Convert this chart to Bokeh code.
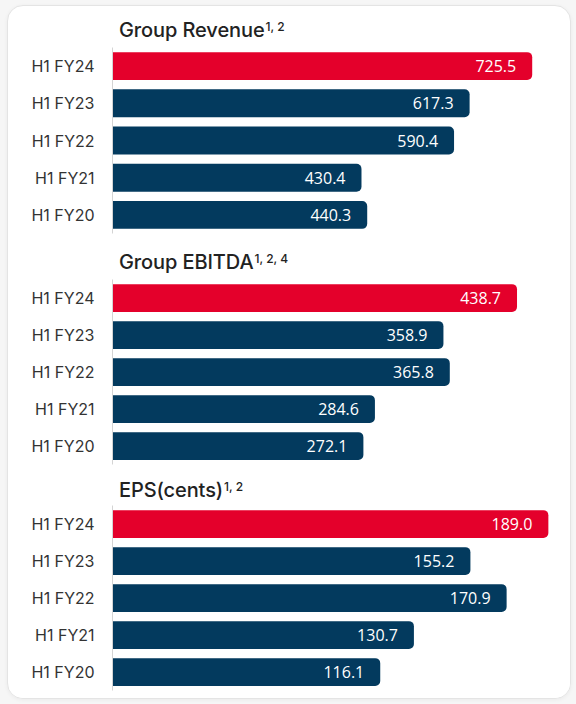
from bokeh.plotting import figure
from bokeh.models import ColumnDataSource, FactorRange, Range1d, Div
from bokeh.layouts import column
from bokeh.embed import file_html
from bokeh.resources import INLINE
from bokeh.core.properties import value

categories = ["H1 FY24", "H1 FY23", "H1 FY22", "H1 FY21", "H1 FY20"]
revenue = [725.5, 617.3, 590.4, 430.4, 440.3]
ebitda = [438.7, 358.9, 365.8, 284.6, 272.1]
eps = [189.0, 155.2, 170.9, 130.7, 116.1]

titles = ["Group Revenue", "Group EBITDA", "EPS(cents)"]
footnotes = ["1, 2", "1, 2, 4", "1, 2"]

RED = "#E4002B"
NAVY = "#033A5E"
colors = [RED] + [NAVY] * 4
W = 562


def title_div(title, note, height, pad_top):
    html = (f'<div style="padding-left:111px;padding-top:{pad_top}px;'
            'font-family:Inter;font-size:20px;font-weight:500;line-height:20px;'
            'color:#222222;white-space:nowrap;letter-spacing:-0.1px">'
            f'{title}<span style="font-size:12px;position:relative;top:-6px;'
            f'margin-left:1px;letter-spacing:0">{note}</span></div>')
    return Div(text=html, width=W, height=height, margin=0)


def panel(vals, xmax, height, top, bottom):
    src = ColumnDataSource(dict(cat=categories, val=vals, color=colors,
                                lab=[f"{v:.1f}" for v in vals]))
    p = figure(width=W, height=height, output_backend="svg", toolbar_location=None,
               y_range=FactorRange(factors=categories[::-1]),
               x_range=Range1d(0, xmax), margin=0,
               min_border_left=104, min_border_right=0,
               min_border_top=top, min_border_bottom=bottom)
    p.hbar(y="cat", left=0, right="val", height=0.75, color="color", source=src,
           line_color=None,
           border_radius=dict(top_left=0, top_right=5, bottom_right=5, bottom_left=0))
    p.text(x="val", y="cat", text="lab", source=src, x_offset=-16,
           text_align="right", text_baseline="middle", text_color="white",
           text_font=value("Open Sans"), text_font_size="16px")
    p.xaxis.visible = False
    p.xgrid.visible = False
    p.ygrid.visible = False
    p.outline_line_color = None
    p.background_fill_color = "white"
    p.border_fill_color = "white"
    ax = p.yaxis[0]
    ax.axis_line_color = "#d4d4d4"
    ax.major_tick_line_color = None
    ax.minor_tick_line_color = None
    ax.major_tick_out = 0
    ax.major_tick_in = 0
    ax.major_label_standoff = 18
    ax.major_label_text_font = "Inter"
    ax.major_label_text_font_size = "16px"
    ax.major_label_text_color = "#333333"
    return p


d1 = title_div(titles[0], footnotes[0], 37, 14)
p1 = panel(revenue, 791.7, 198, 4, 8)
d2 = title_div(titles[1], footnotes[1], 34, 11)
p2 = panel(ebitda, 496.7, 193, 4, 4)
d3 = title_div(titles[2], footnotes[2], 33, 12)
p3 = panel(eps, 198.6, 197, 4, 8)

card = column(d1, p1, d2, p2, d3, p3, spacing=0, margin=(5, 0, 0, 7),
              styles={"border": "1px solid #e4e4e4", "border-radius": "16px",
                      "box-shadow": "0 1px 4px rgba(0,0,0,0.05)",
                      "background": "white", "overflow": "hidden"})

page = column(card, width=576, height=704, margin=0,
              styles={"background": "#f6f6f6"})

open("out.html", "w").write(file_html(page, INLINE))
